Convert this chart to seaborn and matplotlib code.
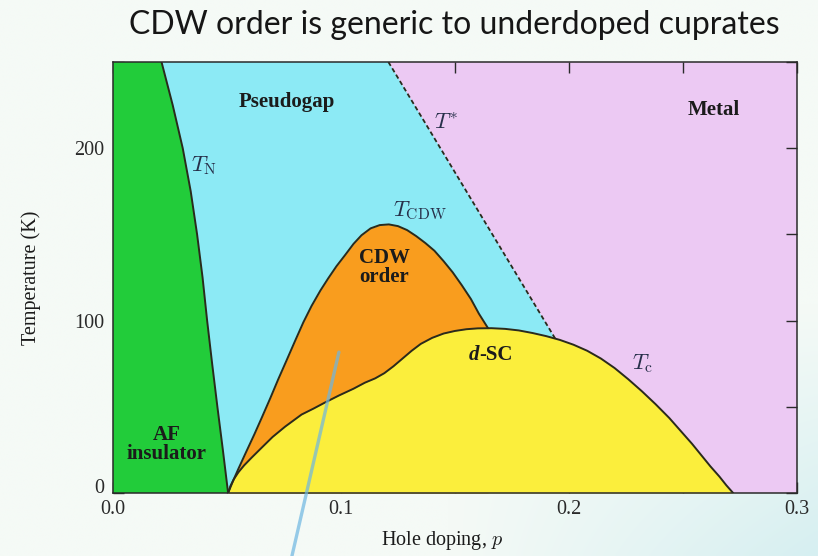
import numpy as np
import matplotlib
matplotlib.use("Agg")
import matplotlib.pyplot as plt
import matplotlib.transforms as mtransforms
import seaborn as sns

# Phase boundaries of the hole-doped cuprates (doping p, temperature T in K)
tn_p = [0.0213, 0.0262, 0.0306, 0.0341, 0.0369, 0.0393, 0.0413, 0.0435, 0.0458, 0.0482, 0.0505]
tn_T = [250, 225, 200, 175, 150, 125, 100, 75, 50, 25, 0]

tstar_p = [0.1208, 0.1940]
tstar_T = [250, 89.5]

cdw_p = [0.0505, 0.0525, 0.055, 0.0583, 0.062, 0.0652, 0.069, 0.0725, 0.076, 0.0798,
         0.0835, 0.0871, 0.091, 0.0944, 0.098, 0.1018, 0.1055, 0.109, 0.113, 0.117,
         0.121, 0.125, 0.129, 0.133, 0.137, 0.141, 0.145, 0.149, 0.153, 0.157,
         0.1605, 0.1645]
cdw_T = [0, 6.5, 14, 23.5, 34, 43.5, 55, 66, 76.5, 88,
         99, 108.5, 117.5, 124.5, 131.5, 138, 144.5, 149.5, 153.5, 155.4,
         155.8, 154.8, 152.5, 149, 145, 140.5, 134.5, 128, 120.5, 112.5,
         104, 95.6]

sc_p = [0.0505, 0.0515, 0.053, 0.055, 0.0575, 0.0608, 0.065, 0.070, 0.0755, 0.0827,
        0.088, 0.093, 0.099, 0.1055, 0.1105, 0.115, 0.119, 0.123, 0.127, 0.131,
        0.135, 0.140, 0.145, 0.150, 0.155, 0.160, 0.166, 0.172, 0.178, 0.184,
        0.190, 0.196, 0.202, 0.208, 0.214, 0.220, 0.226, 0.232, 0.238, 0.244,
        0.249, 0.254, 0.258, 0.262, 0.266, 0.269, 0.272]
sc_T = [0, 4, 8, 12, 16, 20.5, 26, 32.5, 38.5, 45.5,
        49, 52.5, 56.5, 60.5, 64, 66.5, 69.5, 73.5, 78, 82.5,
        86.5, 90, 92.5, 94, 95, 95.5, 95.6, 95.2, 94.3, 92.8,
        91, 88.8, 86, 82.5, 78, 72.5, 66, 59, 51.5, 43.5,
        36, 28.5, 22, 15.5, 9.5, 4.5, 0]

# Pen stroke pointing into the CDW region
pointer_p = [0.0991, 0.0785]
pointer_T = [81.7, -36.5]

x_ticks = [0.0, 0.05, 0.1, 0.15, 0.2, 0.25, 0.3]
x_ticklabels = ["0.0", "", "0.1", "", "0.2", "", "0.3"]
y_ticks = [0, 50, 100, 150, 200, 250]
y_ticklabels = ["0", "", "100", "", "200", ""]

GREEN = "#22cc3a"
CYAN = "#8ceaf5"
PINK = "#ecc9f3"
ORANGE = "#f99d1e"
YELLOW = "#fbee3c"
EDGE = "#2a2a1c"
INK = "#1b1b1b"
MATH = "#27304a"

sns.set_theme(style="ticks")
plt.rcParams["font.family"] = ["Liberation Serif", "DejaVu Serif"]
plt.rcParams["mathtext.fontset"] = "cm"

fig = plt.figure(figsize=(8.18, 5.56), dpi=100, facecolor="#f5faf6")

# slide background: near white, turning faintly cyan toward the lower right
bg = fig.add_axes([0, 0, 1, 1], zorder=-10)
gx, gy = np.meshgrid(np.linspace(0, 1, 200), np.linspace(0, 1, 140))
w = np.clip((gx - 0.55) / 0.45, 0, 1) * np.clip((gy - 0.55) / 0.45, 0, 1)
c0 = np.array([0xf5, 0xfa, 0xf6]) / 255
c1 = np.array([0xd6, 0xef, 0xf1]) / 255
bg.imshow(c0 + (c1 - c0) * w[..., None], aspect="auto", extent=[0, 1, 0, 1],
          origin="upper", interpolation="bilinear")
bg.set_axis_off()

ax = fig.add_axes([0.1381, 0.1133, 0.8362, 0.7752])
ax.set_facecolor(PINK)

# Pseudogap region between T_N and T*
cyan_x = tn_p + [tstar_p[1], tstar_p[1], tstar_p[0]]
cyan_y = tn_T + [0, tstar_T[1], tstar_T[0]]
ax.fill(cyan_x, cyan_y, color=CYAN, lw=0, zorder=1)

# Antiferromagnetic insulator
green_x = [0, 0] + tn_p
green_y = [0, 250] + tn_T
ax.fill(green_x, green_y, color=GREEN, lw=0, zorder=2)

# CDW dome and superconducting dome
ax.fill_between(cdw_p, cdw_T, 0, color=ORANGE, lw=0, zorder=3)
ax.fill_between(sc_p, sc_T, 0, color=YELLOW, lw=0, zorder=4)

line_kw = dict(sort=False, estimator=None, color=EDGE, lw=1.4, ax=ax)
sns.lineplot(x=tn_p, y=tn_T, zorder=5, **line_kw)
sns.lineplot(x=cdw_p, y=cdw_T, zorder=5, **line_kw)
sns.lineplot(x=sc_p, y=sc_T, zorder=6, **line_kw)
ax.plot(tstar_p, tstar_T, color=EDGE, lw=1.3, ls=(0, (2.5, 1.6)), zorder=5)

ax.plot(pointer_p, pointer_T, color="#6db6e2", lw=2.4, alpha=0.7,
        solid_capstyle="round", clip_on=False, zorder=10)

# Region labels
bold = dict(fontweight="bold", color=INK, fontsize=15, ha="center", va="center", zorder=8)
ax.text(0.0763, 227, "Pseudogap", **bold)
ax.text(0.2636, 222, "Metal", **bold)
ax.text(0.119, 131, "CDW\norder", linespacing=0.95, **bold)
ax.text(0.0237, 28, "AF\ninsulator", linespacing=0.95, **bold)
ax.text(0.1605, 80, "d", fontstyle="italic", fontweight="bold", color=INK,
        fontsize=15, ha="right", va="center", zorder=8)
ax.text(0.1605, 80, "-SC", fontweight="bold", color=INK,
        fontsize=15, ha="left", va="center", zorder=8)

math = dict(color=MATH, fontsize=16, ha="center", va="center", zorder=8)
ax.text(0.0400, 190, r"$T_{\rm N}$", **math)
ax.text(0.146, 214, r"$T^{*}$", **math)
ax.text(0.1346, 164, r"$T_{\rm CDW}$", **math)
ax.text(0.2325, 75, r"$T_{\rm c}$", **math)

ax.set_xlim(0, 0.3)
ax.set_ylim(0, 250)
ax.set_xticks(x_ticks)
ax.set_xticklabels(x_ticklabels)
ax.set_yticks(y_ticks)
ax.set_yticklabels(y_ticklabels)
ax.tick_params(direction="in", length=8, width=1, top=True, right=True,
               labelsize=14.5, colors="#2a2a2a", pad=5)
ax.tick_params(axis="y", pad=6)
for s in ax.spines.values():
    s.set_color("#2a2a2a")
    s.set_linewidth(1.1)
    s.set_zorder(9)

# lift the "0" on the temperature axis clear of the "0.0" below it
zero_label = ax.get_yticklabels()[0]
zero_label.set_transform(zero_label.get_transform() +
                         mtransforms.ScaledTranslation(0, 5 / 72, fig.dpi_scale_trans))

ax.set_xlabel("Hole doping, $p$", fontsize=14.5, color=INK)
ax.xaxis.set_label_coords(0.481, -0.083)
ax.set_ylabel("Temperature (K)", fontsize=14.5, color=INK, labelpad=24)

fig.text(0.5556, 0.955, "CDW order is generic to underdoped cuprates",
         family=["Lato", "DejaVu Sans"], fontsize=23, color="#161616",
         ha="center", va="center")

fig.savefig("out.png", dpi=100, facecolor=fig.get_facecolor())
